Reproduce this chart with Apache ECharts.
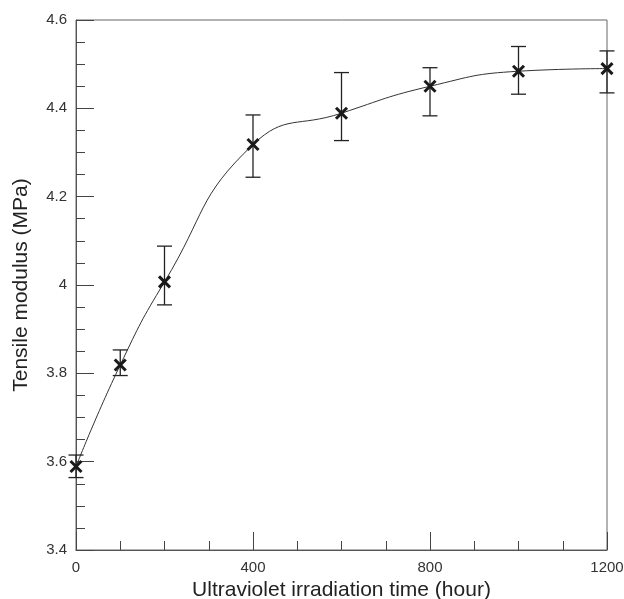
<!DOCTYPE html>
<html>
<head>
<meta charset="utf-8">
<script src="https://cdn.jsdelivr.net/npm/echarts@6/dist/echarts.min.js"></script>
<style>html,body{margin:0;padding:0;background:#fff;}#c{width:624px;height:599px;}</style>
</head>
<body>
<div id="c"></div>
<script>
var hours = [0, 100, 200, 400, 600, 800, 1000, 1200];
var modulus = [3.589, 3.819, 4.007, 4.318, 4.389, 4.450, 4.484, 4.490];
var errLow = [3.564, 3.795, 3.955, 4.244, 4.327, 4.383, 4.432, 4.435];
var errHigh = [3.615, 3.853, 4.088, 4.385, 4.481, 4.492, 4.540, 4.530];
var xTicks = [0, 400, 800, 1200];
var yTicks = [3.4, 3.6, 3.8, 4, 4.2, 4.4, 4.6];

var chart = echarts.init(document.getElementById('c'));
var lineData = hours.map(function (h, i) { return [h, modulus[i]]; });
var errData = hours.map(function (h, i) { return [h, modulus[i], errLow[i], errHigh[i]]; });
var fontFam = '"Liberation Sans", Arial, sans-serif';

chart.setOption({
  animation: false,
  grid: { left: 76, right: 17, top: 20, bottom: 49, containLabel: false, outerBoundsMode: 'none',
    show: true, borderColor: '#666', borderWidth: 1, backgroundColor: 'transparent' },
  xAxis: {
    type: 'value', min: 0, max: 1200, interval: 400,
    name: 'Ultraviolet irradiation time (hour)', nameLocation: 'middle', nameGap: 24,
    nameTextStyle: { fontFamily: fontFam, fontSize: 21, color: '#222' },
    axisLine: { lineStyle: { color: '#555', width: 1 } },
    axisTick: { inside: true, length: 18, lineStyle: { color: '#444' } },
    minorTick: { show: true, splitNumber: 4, length: 9, lineStyle: { color: '#444' } },
    axisLabel: { fontFamily: fontFam, fontSize: 15, color: '#333', margin: 10,
      formatter: function (v) { return xTicks.indexOf(v) >= 0 ? String(v) : ''; } },
    splitLine: { show: false }
  },
  yAxis: {
    type: 'value', min: 3.4, max: 4.6, interval: 0.2,
    name: 'Tensile modulus (MPa)', nameLocation: 'middle', nameGap: 44,
    nameTextStyle: { fontFamily: fontFam, fontSize: 21, color: '#222' },
    axisLine: { lineStyle: { color: '#555', width: 1 } },
    axisTick: { inside: true, length: 18, lineStyle: { color: '#444' } },
    minorTick: { show: true, splitNumber: 4, length: 9, lineStyle: { color: '#444' } },
    axisLabel: { fontFamily: fontFam, fontSize: 15, color: '#333', margin: 9,
      formatter: function (v) {
        var r = Math.round(v * 10) / 10;
        return yTicks.indexOf(r) >= 0 ? String(r) : '';
      } },
    splitLine: { show: false }
  },
  series: [
    {
      type: 'line', data: lineData, smooth: 0.5, showSymbol: false,
      lineStyle: { color: '#333', width: 1 }, z: 2
    },
    {
      type: 'custom', data: errData, z: 3,
      encode: { x: 0, y: [1, 2, 3] },
      renderItem: function (params, api) {
        var x = api.value(0);
        var c = api.coord([x, api.value(1)]);
        var lo = api.coord([x, api.value(2)]);
        var hi = api.coord([x, api.value(3)]);
        var cap = 7.5, m = 5.5;
        var st = { stroke: '#222', lineWidth: 1.3 };
        var mk = { stroke: '#1a1a1a', lineWidth: 3 };
        return {
          type: 'group',
          children: [
            { type: 'line', shape: { x1: lo[0], y1: lo[1], x2: hi[0], y2: hi[1] }, style: st },
            { type: 'line', shape: { x1: hi[0] - cap, y1: hi[1], x2: hi[0] + cap, y2: hi[1] }, style: st },
            { type: 'line', shape: { x1: lo[0] - cap, y1: lo[1], x2: lo[0] + cap, y2: lo[1] }, style: st },
            { type: 'line', shape: { x1: c[0] - m, y1: c[1] - m, x2: c[0] + m, y2: c[1] + m }, style: mk },
            { type: 'line', shape: { x1: c[0] - m, y1: c[1] + m, x2: c[0] + m, y2: c[1] - m }, style: mk }
          ]
        };
      }
    }
  ]
});
</script>
</body>
</html>
